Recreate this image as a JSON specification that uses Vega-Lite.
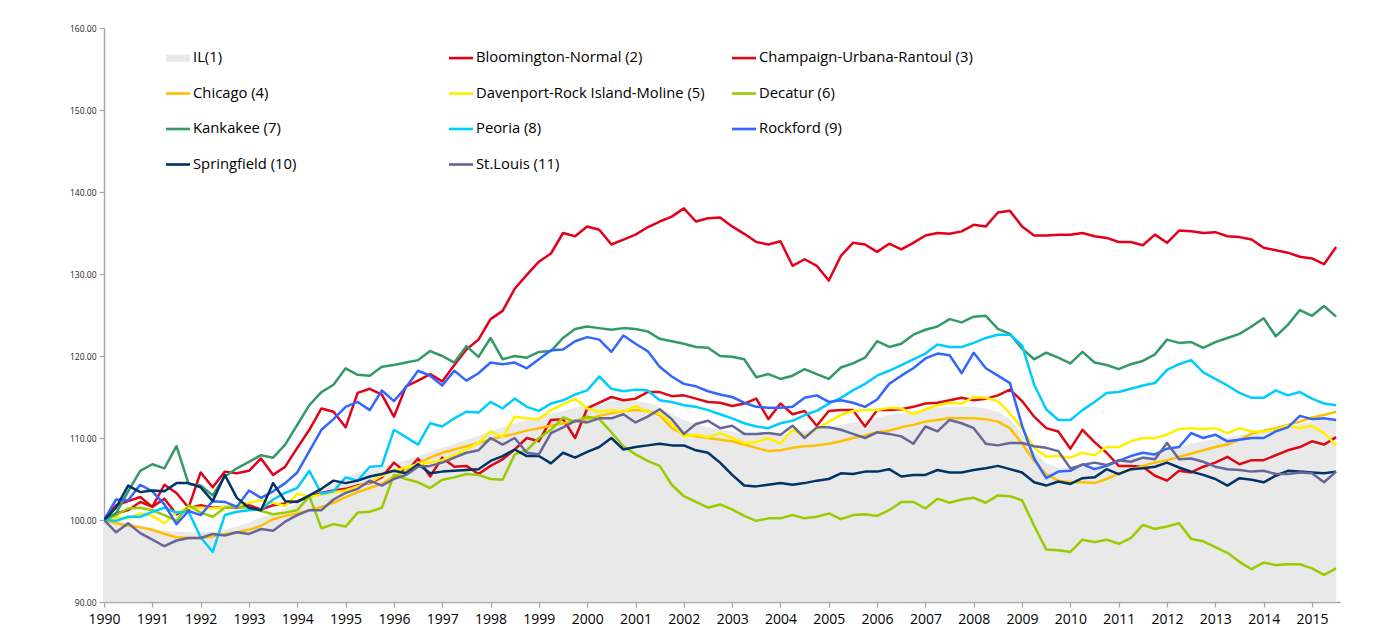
{
  "$schema": "https://vega.github.io/schema/vega-lite/v6.json",
  "width": 1236,
  "height": 574,
  "autosize": {"type": "none"},
  "padding": {"left": 104, "top": 28, "right": 44, "bottom": 35},
  "background": "white",
  "title": {
    "text": "Nonfarm Employment Change Index by Metro Area by year",
    "font": "Liberation Serif",
    "fontSize": 26,
    "fontWeight": "bold",
    "fontStyle": "italic",
    "color": "#000000",
    "anchor": "middle",
    "baseline": "alphabetic",
    "offset": 29
  },
  "config": {
    "view": {"stroke": null},
    "axis": {"grid": false, "title": null, "domainColor": "#a6a6a6", "tickColor": "#a6a6a6", "domainWidth": 1.5, "tickWidth": 1.2, "tickSize": 5}
  },
  "datasets": {
    "names": [
      {"k": "IL", "name": "IL(1)"},
      {"k": "BN", "name": "Bloomington-Normal (2)"},
      {"k": "CU", "name": "Champaign-Urbana-Rantoul (3)"},
      {"k": "CH", "name": "Chicago (4)"},
      {"k": "DA", "name": "Davenport-Rock Island-Moline (5)"},
      {"k": "DE", "name": "Decatur (6)"},
      {"k": "KA", "name": "Kankakee (7)"},
      {"k": "PE", "name": "Peoria (8)"},
      {"k": "RO", "name": "Rockford (9)"},
      {"k": "SP", "name": "Springfield (10)"},
      {"k": "SL", "name": "St.Louis (11)"}
    ],
    "d": [
      {"t":1990.00,"IL":100,"BN":100,"CU":100,"CH":100,"DA":100,"DE":100,"KA":100,"PE":100,"RO":100,"SP":100,"SL":100},
      {"t":1990.25,"IL":99.9,"BN":101.8,"CU":100.8,"CH":99.6,"DA":100.3,"DE":100.6,"KA":100.8,"PE":99.9,"RO":102.5,"SP":101.5,"SL":98.5},
      {"t":1990.50,"IL":99.7,"BN":102.3,"CU":101.2,"CH":99.3,"DA":100.2,"DE":101.4,"KA":103.5,"PE":100.4,"RO":102.4,"SP":104.2,"SL":99.6},
      {"t":1990.75,"IL":99.4,"BN":102.8,"CU":102.2,"CH":99.1,"DA":100.8,"DE":101.5,"KA":106.0,"PE":100.4,"RO":104.3,"SP":103.4,"SL":98.4},
      {"t":1991.00,"IL":99.0,"BN":101.6,"CU":101.6,"CH":98.8,"DA":100.5,"DE":101.2,"KA":106.8,"PE":101.0,"RO":103.5,"SP":103.6,"SL":97.6},
      {"t":1991.25,"IL":98.7,"BN":104.3,"CU":102.6,"CH":98.3,"DA":99.6,"DE":100.6,"KA":106.3,"PE":101.5,"RO":101.9,"SP":103.5,"SL":96.8},
      {"t":1991.50,"IL":98.6,"BN":103.3,"CU":100.7,"CH":97.9,"DA":100.9,"DE":99.9,"KA":109.0,"PE":100.9,"RO":99.5,"SP":104.5,"SL":97.5},
      {"t":1991.75,"IL":98.5,"BN":101.5,"CU":101.4,"CH":97.8,"DA":101.5,"DE":101.8,"KA":104.4,"PE":101.0,"RO":101.1,"SP":104.5,"SL":97.8},
      {"t":1992.00,"IL":98.5,"BN":105.8,"CU":101.8,"CH":97.8,"DA":101.5,"DE":100.9,"KA":104.2,"PE":97.9,"RO":100.6,"SP":104.0,"SL":97.8},
      {"t":1992.25,"IL":98.6,"BN":104.0,"CU":101.5,"CH":98.0,"DA":101.4,"DE":100.4,"KA":103.0,"PE":96.1,"RO":102.3,"SP":102.3,"SL":98.3},
      {"t":1992.50,"IL":98.8,"BN":105.9,"CU":101.6,"CH":98.3,"DA":101.6,"DE":101.5,"KA":105.3,"PE":100.6,"RO":102.2,"SP":105.5,"SL":98.1},
      {"t":1992.75,"IL":99.2,"BN":105.7,"CU":101.5,"CH":98.5,"DA":101.8,"DE":101.6,"KA":106.3,"PE":101.0,"RO":101.6,"SP":102.7,"SL":98.5},
      {"t":1993.00,"IL":99.7,"BN":106.0,"CU":101.8,"CH":98.8,"DA":102.1,"DE":101.5,"KA":107.1,"PE":101.2,"RO":103.6,"SP":101.5,"SL":98.3},
      {"t":1993.25,"IL":100.3,"BN":107.5,"CU":101.3,"CH":99.3,"DA":102.4,"DE":101.1,"KA":107.9,"PE":101.3,"RO":102.7,"SP":101.2,"SL":98.9},
      {"t":1993.50,"IL":100.8,"BN":105.5,"CU":101.8,"CH":100.1,"DA":102.1,"DE":100.7,"KA":107.6,"PE":102.5,"RO":103.5,"SP":104.5,"SL":98.7},
      {"t":1993.75,"IL":101.4,"BN":106.5,"CU":102.0,"CH":100.5,"DA":101.7,"DE":100.9,"KA":109.2,"PE":103.3,"RO":104.5,"SP":102.3,"SL":99.8},
      {"t":1994.00,"IL":102.0,"BN":108.8,"CU":102.3,"CH":100.8,"DA":103.2,"DE":101.2,"KA":111.6,"PE":103.9,"RO":105.8,"SP":102.2,"SL":100.6},
      {"t":1994.25,"IL":102.8,"BN":111.0,"CU":102.8,"CH":101.2,"DA":102.8,"DE":102.9,"KA":114.0,"PE":106.0,"RO":108.4,"SP":103.0,"SL":101.2},
      {"t":1994.50,"IL":103.6,"BN":113.6,"CU":103.3,"CH":101.6,"DA":103.1,"DE":99.0,"KA":115.6,"PE":103.2,"RO":111.0,"SP":103.8,"SL":101.2},
      {"t":1994.75,"IL":104.4,"BN":113.2,"CU":103.6,"CH":102.1,"DA":103.4,"DE":99.5,"KA":116.5,"PE":103.5,"RO":112.3,"SP":104.8,"SL":102.5},
      {"t":1995.00,"IL":105.2,"BN":111.3,"CU":103.8,"CH":102.8,"DA":103.6,"DE":99.2,"KA":118.5,"PE":105.2,"RO":113.8,"SP":104.5,"SL":103.3},
      {"t":1995.25,"IL":105.8,"BN":115.5,"CU":104.2,"CH":103.4,"DA":104.1,"DE":100.9,"KA":117.7,"PE":104.8,"RO":114.4,"SP":104.8,"SL":103.8},
      {"t":1995.50,"IL":106.1,"BN":116.0,"CU":104.5,"CH":103.9,"DA":104.6,"DE":101.0,"KA":117.6,"PE":106.5,"RO":113.4,"SP":105.3,"SL":104.8},
      {"t":1995.75,"IL":106.4,"BN":115.3,"CU":105.2,"CH":104.4,"DA":105.4,"DE":101.5,"KA":118.7,"PE":106.6,"RO":115.8,"SP":105.6,"SL":104.2},
      {"t":1996.00,"IL":106.8,"BN":112.6,"CU":107.0,"CH":105.3,"DA":106.0,"DE":105.5,"KA":118.9,"PE":111.0,"RO":114.5,"SP":106.0,"SL":105.0},
      {"t":1996.25,"IL":107.3,"BN":116.3,"CU":105.8,"CH":106.0,"DA":106.4,"DE":105.0,"KA":119.2,"PE":110.1,"RO":116.2,"SP":105.7,"SL":105.5},
      {"t":1996.50,"IL":107.8,"BN":117.0,"CU":107.5,"CH":106.9,"DA":106.8,"DE":104.6,"KA":119.5,"PE":109.2,"RO":118.2,"SP":106.8,"SL":106.5},
      {"t":1996.75,"IL":108.3,"BN":117.8,"CU":105.3,"CH":107.6,"DA":107.0,"DE":103.9,"KA":120.6,"PE":111.8,"RO":117.6,"SP":105.7,"SL":106.6},
      {"t":1997.00,"IL":108.8,"BN":116.9,"CU":107.6,"CH":108.2,"DA":107.3,"DE":104.9,"KA":120.0,"PE":111.4,"RO":116.4,"SP":105.9,"SL":107.0},
      {"t":1997.25,"IL":109.3,"BN":118.9,"CU":106.5,"CH":108.6,"DA":107.9,"DE":105.2,"KA":119.2,"PE":112.4,"RO":118.2,"SP":106.0,"SL":107.6},
      {"t":1997.50,"IL":109.8,"BN":120.8,"CU":106.6,"CH":109.0,"DA":108.6,"DE":105.6,"KA":121.2,"PE":113.2,"RO":117.0,"SP":106.1,"SL":108.2},
      {"t":1997.75,"IL":110.3,"BN":122.0,"CU":105.6,"CH":109.4,"DA":109.4,"DE":105.5,"KA":119.9,"PE":113.1,"RO":117.9,"SP":106.2,"SL":108.5},
      {"t":1998.00,"IL":110.8,"BN":124.5,"CU":106.6,"CH":109.8,"DA":110.8,"DE":105.0,"KA":122.2,"PE":114.4,"RO":119.2,"SP":107.2,"SL":110.0},
      {"t":1998.25,"IL":111.3,"BN":125.5,"CU":107.4,"CH":110.2,"DA":110.1,"DE":104.9,"KA":119.6,"PE":113.6,"RO":119.0,"SP":107.8,"SL":109.2},
      {"t":1998.50,"IL":111.8,"BN":128.2,"CU":108.6,"CH":110.5,"DA":112.6,"DE":108.0,"KA":120.0,"PE":114.8,"RO":119.2,"SP":108.6,"SL":110.0},
      {"t":1998.75,"IL":112.2,"BN":129.9,"CU":110.0,"CH":110.9,"DA":112.4,"DE":108.5,"KA":119.8,"PE":113.8,"RO":118.5,"SP":107.8,"SL":108.2},
      {"t":1999.00,"IL":112.6,"BN":131.5,"CU":109.6,"CH":111.2,"DA":112.3,"DE":110.0,"KA":120.5,"PE":113.3,"RO":119.6,"SP":107.8,"SL":108.0},
      {"t":1999.25,"IL":113.0,"BN":132.5,"CU":112.2,"CH":111.5,"DA":113.4,"DE":111.0,"KA":120.6,"PE":114.2,"RO":120.7,"SP":106.9,"SL":110.6},
      {"t":1999.50,"IL":113.3,"BN":135.0,"CU":112.3,"CH":111.8,"DA":114.1,"DE":112.5,"KA":122.2,"PE":114.6,"RO":120.8,"SP":108.2,"SL":111.3},
      {"t":1999.75,"IL":113.7,"BN":134.6,"CU":110.0,"CH":112.1,"DA":114.8,"DE":112.0,"KA":123.3,"PE":115.3,"RO":121.8,"SP":107.6,"SL":112.1},
      {"t":2000.00,"IL":114.0,"BN":135.8,"CU":113.6,"CH":112.3,"DA":113.6,"DE":112.6,"KA":123.6,"PE":115.8,"RO":122.3,"SP":108.3,"SL":111.9},
      {"t":2000.25,"IL":114.3,"BN":135.4,"CU":114.3,"CH":112.7,"DA":113.2,"DE":112.3,"KA":123.4,"PE":117.5,"RO":122.0,"SP":108.9,"SL":112.4},
      {"t":2000.50,"IL":114.5,"BN":133.6,"CU":115.0,"CH":113.0,"DA":113.4,"DE":110.7,"KA":123.2,"PE":116.0,"RO":120.5,"SP":110.0,"SL":112.4},
      {"t":2000.75,"IL":114.6,"BN":134.2,"CU":114.6,"CH":113.3,"DA":113.2,"DE":109.0,"KA":123.4,"PE":115.7,"RO":122.5,"SP":108.6,"SL":112.9},
      {"t":2001.00,"IL":114.5,"BN":134.8,"CU":114.8,"CH":113.4,"DA":113.9,"DE":108.0,"KA":123.3,"PE":115.9,"RO":121.5,"SP":108.9,"SL":111.9},
      {"t":2001.25,"IL":114.3,"BN":135.7,"CU":115.6,"CH":113.3,"DA":113.2,"DE":107.2,"KA":123.0,"PE":115.8,"RO":120.6,"SP":109.1,"SL":112.6},
      {"t":2001.50,"IL":113.8,"BN":136.4,"CU":115.6,"CH":112.8,"DA":113.0,"DE":106.6,"KA":122.1,"PE":114.6,"RO":118.7,"SP":109.3,"SL":113.5},
      {"t":2001.75,"IL":112.9,"BN":137.0,"CU":115.1,"CH":111.2,"DA":111.8,"DE":104.3,"KA":121.8,"PE":114.4,"RO":117.5,"SP":109.1,"SL":112.3},
      {"t":2002.00,"IL":112.2,"BN":138.0,"CU":115.2,"CH":110.5,"DA":110.2,"DE":102.9,"KA":121.5,"PE":114.0,"RO":116.6,"SP":109.1,"SL":110.5},
      {"t":2002.25,"IL":111.7,"BN":136.4,"CU":114.8,"CH":110.2,"DA":110.4,"DE":102.2,"KA":121.1,"PE":113.8,"RO":116.3,"SP":108.5,"SL":111.7},
      {"t":2002.50,"IL":111.3,"BN":136.8,"CU":114.4,"CH":110.0,"DA":110.1,"DE":101.5,"KA":121.0,"PE":113.4,"RO":115.7,"SP":108.2,"SL":112.1},
      {"t":2002.75,"IL":111.0,"BN":136.9,"CU":114.3,"CH":109.8,"DA":110.6,"DE":101.9,"KA":120.0,"PE":112.9,"RO":115.3,"SP":107.0,"SL":111.2},
      {"t":2003.00,"IL":110.8,"BN":135.8,"CU":113.9,"CH":109.6,"DA":110.0,"DE":101.3,"KA":119.9,"PE":112.4,"RO":115.0,"SP":105.5,"SL":111.5},
      {"t":2003.25,"IL":110.5,"BN":134.9,"CU":114.2,"CH":109.2,"DA":109.4,"DE":100.5,"KA":119.6,"PE":111.8,"RO":114.3,"SP":104.2,"SL":110.5},
      {"t":2003.50,"IL":110.4,"BN":133.9,"CU":114.8,"CH":108.8,"DA":109.5,"DE":99.9,"KA":117.4,"PE":111.4,"RO":113.8,"SP":104.1,"SL":110.5},
      {"t":2003.75,"IL":110.4,"BN":133.6,"CU":112.3,"CH":108.4,"DA":110.0,"DE":100.2,"KA":117.8,"PE":111.2,"RO":113.7,"SP":104.3,"SL":110.6},
      {"t":2004.00,"IL":110.5,"BN":134.0,"CU":114.2,"CH":108.5,"DA":109.3,"DE":100.2,"KA":117.2,"PE":111.8,"RO":113.7,"SP":104.5,"SL":110.4},
      {"t":2004.25,"IL":110.7,"BN":131.0,"CU":112.9,"CH":108.8,"DA":111.0,"DE":100.6,"KA":117.6,"PE":112.1,"RO":113.8,"SP":104.3,"SL":111.5},
      {"t":2004.50,"IL":110.9,"BN":131.8,"CU":113.3,"CH":109.0,"DA":110.2,"DE":100.2,"KA":118.4,"PE":112.8,"RO":114.9,"SP":104.5,"SL":110.0},
      {"t":2004.75,"IL":111.1,"BN":131.0,"CU":111.5,"CH":109.1,"DA":111.1,"DE":100.4,"KA":117.8,"PE":113.3,"RO":115.2,"SP":104.8,"SL":111.3},
      {"t":2005.00,"IL":111.3,"BN":129.2,"CU":113.3,"CH":109.3,"DA":112.0,"DE":100.8,"KA":117.2,"PE":114.2,"RO":114.4,"SP":105.0,"SL":111.3},
      {"t":2005.25,"IL":111.6,"BN":132.2,"CU":113.4,"CH":109.6,"DA":112.8,"DE":100.1,"KA":118.6,"PE":114.9,"RO":114.6,"SP":105.7,"SL":111.0},
      {"t":2005.50,"IL":111.9,"BN":133.8,"CU":113.4,"CH":110.0,"DA":113.3,"DE":100.6,"KA":119.1,"PE":115.8,"RO":114.3,"SP":105.6,"SL":110.5},
      {"t":2005.75,"IL":112.2,"BN":133.6,"CU":111.4,"CH":110.3,"DA":113.4,"DE":100.7,"KA":119.8,"PE":116.6,"RO":113.8,"SP":105.9,"SL":110.0},
      {"t":2006.00,"IL":112.5,"BN":132.7,"CU":113.4,"CH":110.7,"DA":113.4,"DE":100.5,"KA":121.8,"PE":117.6,"RO":114.7,"SP":105.9,"SL":110.7},
      {"t":2006.25,"IL":112.8,"BN":133.7,"CU":113.4,"CH":110.9,"DA":113.7,"DE":101.2,"KA":121.1,"PE":118.2,"RO":116.6,"SP":106.2,"SL":110.5},
      {"t":2006.50,"IL":113.0,"BN":133.0,"CU":113.5,"CH":111.3,"DA":113.6,"DE":102.2,"KA":121.5,"PE":118.9,"RO":117.6,"SP":105.3,"SL":110.2},
      {"t":2006.75,"IL":113.3,"BN":133.8,"CU":113.8,"CH":111.6,"DA":112.9,"DE":102.2,"KA":122.6,"PE":119.6,"RO":118.5,"SP":105.5,"SL":109.3},
      {"t":2007.00,"IL":113.5,"BN":134.7,"CU":114.2,"CH":112.0,"DA":113.5,"DE":101.4,"KA":123.2,"PE":120.3,"RO":119.7,"SP":105.5,"SL":111.4},
      {"t":2007.25,"IL":113.7,"BN":135.0,"CU":114.3,"CH":112.2,"DA":114.0,"DE":102.6,"KA":123.6,"PE":121.4,"RO":120.3,"SP":106.1,"SL":110.8},
      {"t":2007.50,"IL":113.8,"BN":134.9,"CU":114.6,"CH":112.4,"DA":114.3,"DE":102.1,"KA":124.5,"PE":121.1,"RO":120.1,"SP":105.8,"SL":112.2},
      {"t":2007.75,"IL":113.8,"BN":135.2,"CU":114.9,"CH":112.4,"DA":114.2,"DE":102.5,"KA":124.1,"PE":121.1,"RO":117.9,"SP":105.8,"SL":111.8},
      {"t":2008.00,"IL":113.8,"BN":136.0,"CU":114.6,"CH":112.4,"DA":115.0,"DE":102.7,"KA":124.8,"PE":121.6,"RO":120.4,"SP":106.1,"SL":111.2},
      {"t":2008.25,"IL":113.6,"BN":135.8,"CU":114.8,"CH":112.3,"DA":114.9,"DE":102.1,"KA":124.9,"PE":122.2,"RO":118.5,"SP":106.3,"SL":109.3},
      {"t":2008.50,"IL":113.2,"BN":137.5,"CU":115.2,"CH":112.0,"DA":114.5,"DE":103.0,"KA":123.3,"PE":122.6,"RO":117.6,"SP":106.6,"SL":109.1},
      {"t":2008.75,"IL":112.3,"BN":137.7,"CU":115.9,"CH":111.2,"DA":113.0,"DE":102.9,"KA":122.7,"PE":122.6,"RO":116.7,"SP":106.2,"SL":109.4},
      {"t":2009.00,"IL":110.5,"BN":135.8,"CU":114.5,"CH":109.3,"DA":111.2,"DE":102.4,"KA":120.9,"PE":121.3,"RO":111.5,"SP":105.8,"SL":109.4},
      {"t":2009.25,"IL":108.3,"BN":134.7,"CU":112.6,"CH":107.2,"DA":108.8,"DE":99.3,"KA":119.6,"PE":116.5,"RO":107.5,"SP":104.6,"SL":109.0},
      {"t":2009.50,"IL":106.9,"BN":134.7,"CU":111.2,"CH":105.6,"DA":107.7,"DE":96.4,"KA":120.4,"PE":113.5,"RO":105.1,"SP":104.2,"SL":108.8},
      {"t":2009.75,"IL":106.4,"BN":134.8,"CU":110.8,"CH":104.8,"DA":107.8,"DE":96.3,"KA":119.8,"PE":112.2,"RO":105.9,"SP":104.7,"SL":108.4},
      {"t":2010.00,"IL":106.3,"BN":134.8,"CU":108.7,"CH":104.6,"DA":107.6,"DE":96.1,"KA":119.1,"PE":112.2,"RO":106.0,"SP":104.4,"SL":106.3},
      {"t":2010.25,"IL":106.4,"BN":135.0,"CU":111.0,"CH":104.6,"DA":108.2,"DE":97.6,"KA":120.5,"PE":113.4,"RO":106.8,"SP":105.1,"SL":106.7},
      {"t":2010.50,"IL":106.6,"BN":134.6,"CU":109.5,"CH":104.5,"DA":107.9,"DE":97.3,"KA":119.2,"PE":114.4,"RO":106.2,"SP":105.2,"SL":107.0},
      {"t":2010.75,"IL":106.9,"BN":134.4,"CU":108.2,"CH":105.0,"DA":108.9,"DE":97.6,"KA":118.9,"PE":115.5,"RO":106.6,"SP":106.2,"SL":106.7},
      {"t":2011.00,"IL":107.2,"BN":133.9,"CU":106.6,"CH":105.7,"DA":108.9,"DE":97.1,"KA":118.4,"PE":115.6,"RO":107.2,"SP":105.6,"SL":107.3},
      {"t":2011.25,"IL":107.5,"BN":133.9,"CU":106.6,"CH":106.1,"DA":109.6,"DE":97.8,"KA":119.0,"PE":116.0,"RO":107.8,"SP":106.2,"SL":107.1},
      {"t":2011.50,"IL":107.8,"BN":133.5,"CU":106.5,"CH":106.6,"DA":110.0,"DE":99.4,"KA":119.4,"PE":116.4,"RO":108.2,"SP":106.3,"SL":107.6},
      {"t":2011.75,"IL":108.1,"BN":134.8,"CU":105.4,"CH":107.0,"DA":110.0,"DE":98.9,"KA":120.2,"PE":116.7,"RO":108.0,"SP":106.5,"SL":107.4},
      {"t":2012.00,"IL":108.5,"BN":133.8,"CU":104.8,"CH":107.3,"DA":110.4,"DE":99.2,"KA":122.0,"PE":118.3,"RO":108.7,"SP":107.0,"SL":109.4},
      {"t":2012.25,"IL":108.9,"BN":135.3,"CU":106.0,"CH":107.7,"DA":111.1,"DE":99.6,"KA":121.6,"PE":119.0,"RO":108.9,"SP":106.4,"SL":107.4},
      {"t":2012.50,"IL":109.3,"BN":135.2,"CU":105.8,"CH":108.1,"DA":111.2,"DE":97.7,"KA":121.7,"PE":119.5,"RO":110.6,"SP":105.9,"SL":107.5},
      {"t":2012.75,"IL":109.6,"BN":135.0,"CU":106.5,"CH":108.5,"DA":111.1,"DE":97.4,"KA":121.0,"PE":118.0,"RO":110.0,"SP":105.5,"SL":107.1},
      {"t":2013.00,"IL":109.9,"BN":135.1,"CU":107.0,"CH":108.9,"DA":111.2,"DE":96.7,"KA":121.7,"PE":117.2,"RO":110.4,"SP":105.0,"SL":106.5},
      {"t":2013.25,"IL":110.1,"BN":134.6,"CU":107.7,"CH":109.2,"DA":110.6,"DE":96.0,"KA":122.2,"PE":116.4,"RO":109.6,"SP":104.2,"SL":106.2},
      {"t":2013.50,"IL":110.3,"BN":134.5,"CU":106.8,"CH":109.8,"DA":111.2,"DE":94.9,"KA":122.7,"PE":115.5,"RO":109.8,"SP":105.1,"SL":106.1},
      {"t":2013.75,"IL":110.6,"BN":134.2,"CU":107.3,"CH":110.5,"DA":110.8,"DE":94.0,"KA":123.6,"PE":114.9,"RO":110.0,"SP":104.9,"SL":105.9},
      {"t":2014.00,"IL":110.8,"BN":133.2,"CU":107.3,"CH":110.9,"DA":110.8,"DE":94.8,"KA":124.6,"PE":114.9,"RO":110.0,"SP":104.6,"SL":106.0},
      {"t":2014.25,"IL":111.1,"BN":132.9,"CU":107.9,"CH":111.2,"DA":111.0,"DE":94.5,"KA":122.4,"PE":115.8,"RO":110.8,"SP":105.4,"SL":105.6},
      {"t":2014.50,"IL":111.4,"BN":132.6,"CU":108.5,"CH":111.6,"DA":111.5,"DE":94.6,"KA":123.8,"PE":115.2,"RO":111.3,"SP":106.0,"SL":105.6},
      {"t":2014.75,"IL":111.7,"BN":132.1,"CU":108.9,"CH":112.0,"DA":111.2,"DE":94.6,"KA":125.6,"PE":115.6,"RO":112.7,"SP":105.9,"SL":105.8},
      {"t":2015.00,"IL":112.0,"BN":131.9,"CU":109.6,"CH":112.5,"DA":111.5,"DE":94.1,"KA":124.9,"PE":114.8,"RO":112.3,"SP":105.8,"SL":105.7},
      {"t":2015.25,"IL":112.2,"BN":131.2,"CU":109.2,"CH":112.8,"DA":110.6,"DE":93.3,"KA":126.1,"PE":114.2,"RO":112.4,"SP":105.7,"SL":104.6},
      {"t":2015.50,"IL":112.4,"BN":133.3,"CU":110.1,"CH":113.2,"DA":109.1,"DE":94.1,"KA":124.8,"PE":114.0,"RO":112.2,"SP":105.9,"SL":105.9}
    ]
  },
  "data": {"name": "d"},
  "layer": [
    {
      "mark": {"type": "area", "color": "#e9e9e9", "clip": true},
      "encoding": {
        "x": {
          "field": "t", "type": "quantitative",
          "scale": {"domain": [1990, 2015.58], "nice": false, "zero": false},
          "axis": {
            "values": [1990,1991,1992,1993,1994,1995,1996,1997,1998,1999,2000,2001,2002,2003,2004,2005,2006,2007,2008,2009,2010,2011,2012,2013,2014,2015],
            "format": "d", "labelFont": "Open Sans", "labelFontSize": 14, "labelColor": "#000000",
            "labelPadding": 5, "labelFlush": false, "labelOverlap": false
          }
        },
        "y": {
          "field": "IL", "type": "quantitative",
          "scale": {"domain": [90, 160], "nice": false, "zero": false},
          "axis": {
            "values": [90,100,110,120,130,140,150,160],
            "format": ".2f", "labelFont": "Open Sans", "labelFontSize": 8.5, "labelColor": "#222222",
            "labelPadding": 3
          }
        },
        "y2": {"datum": 90}
      }
    },
    {
      "transform": [
        {"fold": ["BN","CU","CH","DA","DE","KA","PE","RO","SP","SL"], "as": ["k", "v"]},
        {"lookup": "k", "from": {"data": {"name": "names"}, "key": "k", "fields": ["name"]}}
      ],
      "mark": {"type": "line", "strokeWidth": 2.5, "strokeJoin": "round", "clip": true},
      "encoding": {
        "x": {"field": "t", "type": "quantitative"},
        "y": {"field": "v", "type": "quantitative"},
        "color": {
          "field": "name", "type": "nominal",
          "scale": {
            "domain": ["IL(1)","Bloomington-Normal (2)","Champaign-Urbana-Rantoul (3)","Chicago (4)","Davenport-Rock Island-Moline (5)","Decatur (6)","Kankakee (7)","Peoria (8)","Rockford (9)","Springfield (10)","St.Louis (11)"],
            "range": ["#e9e9e9","#e3001b","#dc0a14","#ffc000","#fff000","#99cc00","#339966","#00ccff","#3366ff","#003366","#666699"]
          },
          "legend": {
            "title": null,
            "orient": "none",
            "direction": "horizontal",
            "legendX": 62,
            "legendY": 18,
            "columns": 3,
            "gridAlign": "all",
            "columnPadding": 27,
            "rowPadding": 16.5,
            "symbolType": "M-1,-0.11H1V0.11H-1Z",
            "symbolSize": 576,
            "symbolStrokeWidth": 0,
            "labelFont": "Open Sans",
            "labelFontSize": 14.8,
            "labelColor": "#000000",
            "labelOffset": 3,
            "labelLimit": 400,
            "encode": {
              "symbols": {
                "update": {
                  "shape": {"signal": "datum.label === 'IL(1)' ? 'M-1,-0.3H1V0.3H-1Z' : 'M-1,-0.11H1V0.11H-1Z'"},
                  "fill": {"scale": "color", "field": "value"},
                  "fillOpacity": {"value": 1},
                  "strokeWidth": {"value": 0}
                }
              }
            }
          }
        }
      }
    }
  ]
}
